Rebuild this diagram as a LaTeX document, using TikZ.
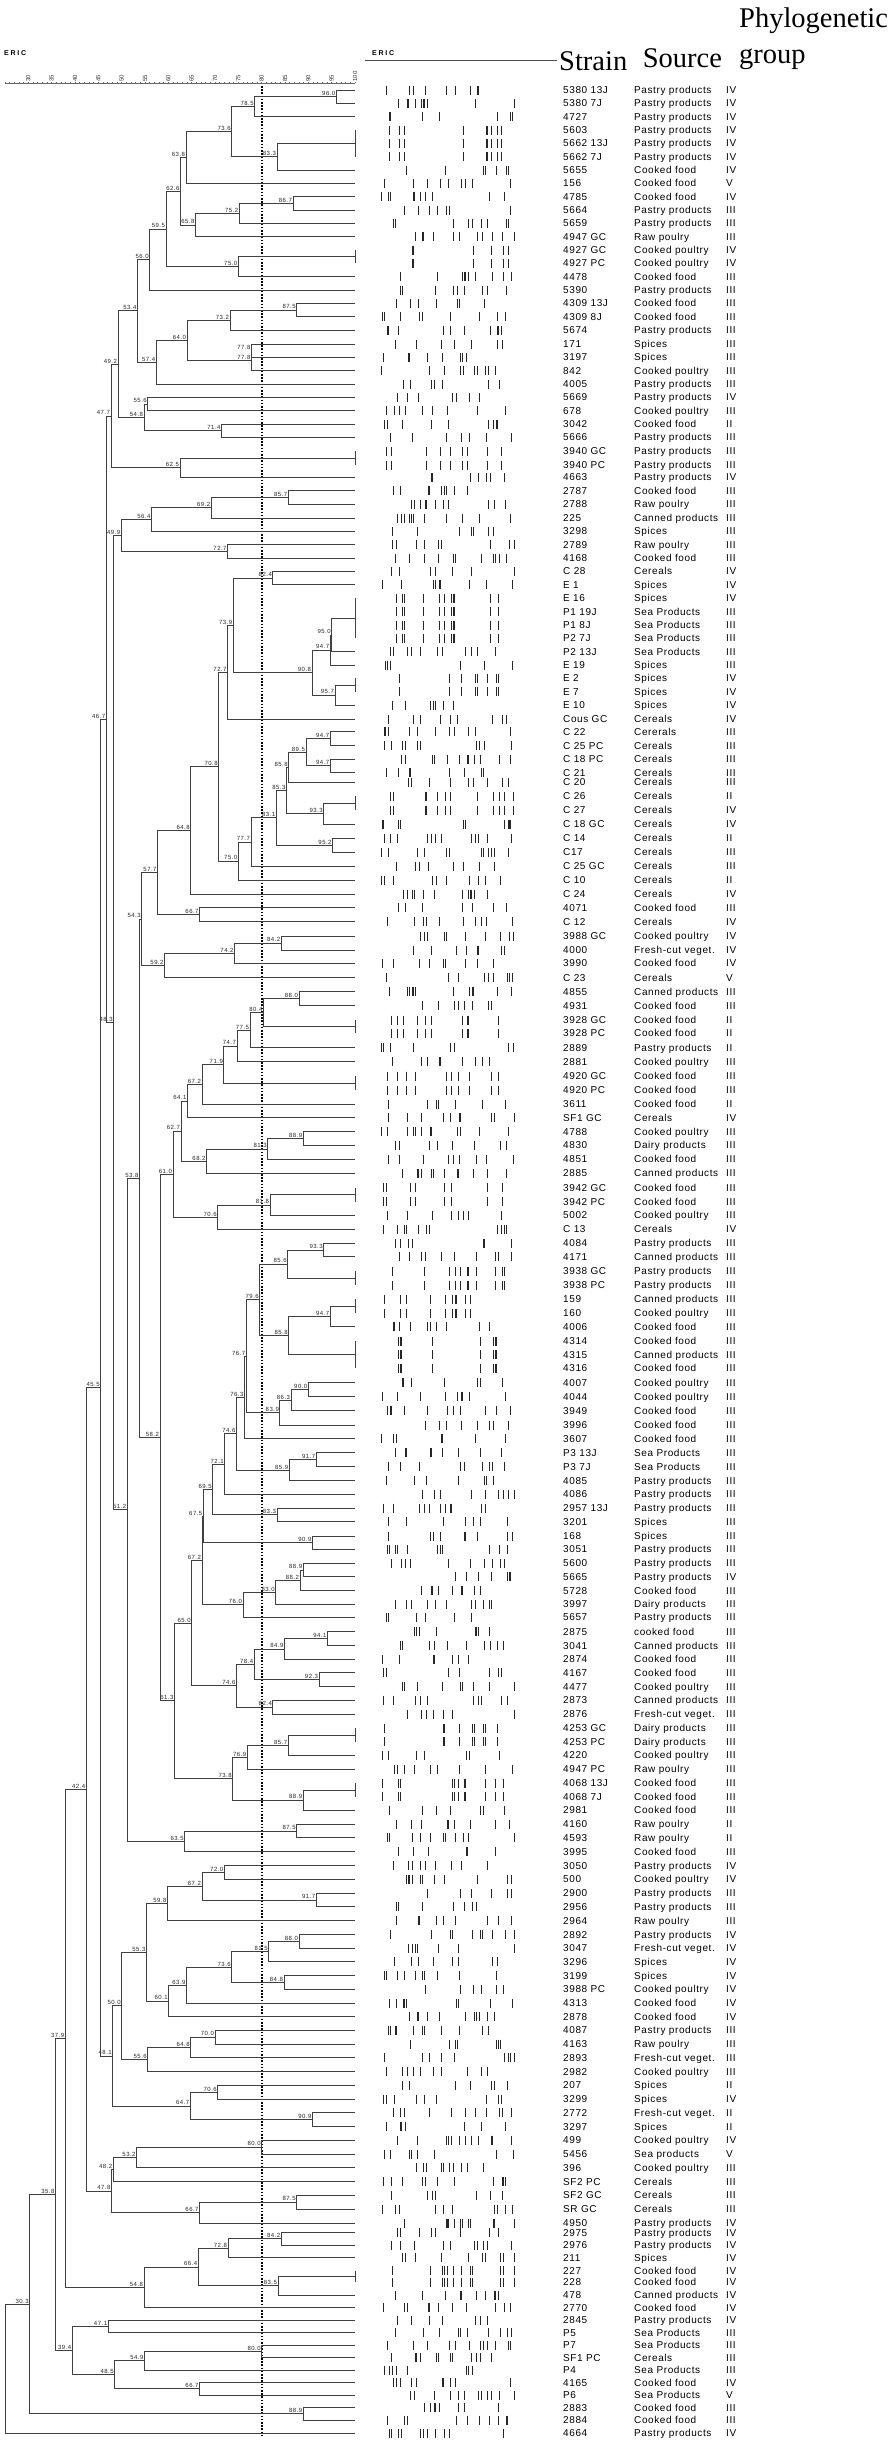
\documentclass[tikz,border=0pt]{standalone}
\usepackage{fontspec}
\setmainfont{Liberation Sans}
\newfontfamily\tabfont[LetterSpace=6]{Liberation Sans}
\newfontfamily\valfont[LetterSpace=8]{Liberation Sans}
\newfontfamily\ericfont[LetterSpace=25]{Liberation Sans}
\newfontfamily\headfont{Liberation Serif}
\usetikzlibrary{calc}

% band pattern of one row: y, seed
\newcommand{\gel}[2]{%
  \pgfmathtruncatemacro{\gelseed}{#2*89+7}%
  \pgfmathsetseed{\gelseed}%
  \pgfmathparse{rnd}%
  \pgfmathtruncatemacro{\gelnb}{7+6*rnd}%
  \foreach \k in {1,...,\gelnb}{%
    \pgfmathsetmacro{\gelx}{381+134*rnd}%
    \draw[band] (\gelx,#1-4.5) -- (\gelx,#1+4.5);}}

% one row: index, y, seed, strain, source, group
\newcommand{\strain}[6]{%
  \coordinate (l#1) at (355,#2);
  \node[tab] (s#1) at (563,#2) {#4};
  \node[tab] (c#1) at (634,#2) {#5};
  \node[tab] (g#1) at (726,#2) {#6};
  \gel{#2}{#3}}

% identical strains: name, first, last
\newcommand{\same}[3]{%
  \path let \p1=(#2), \p2=(#3) in coordinate (#1) at (\x1,{(\y1+\y2)/2});
  \draw[branch] (#2) -- (#3);}

% cluster: name, similarity, upper, lower
\newcommand{\clu}[4]{%
  \path let \p1=(#3), \p2=(#4) in coordinate (#1) at ({(28.3+(#2-30)*4.667)*1pt},{(\y1+\y2)/2});
  \draw[branch] (#3) -- (#3 -| #1) -- (#4 -| #1) -- (#4);
  \node[val] at (#1) {#2};}

\begin{document}
\begin{tikzpicture}[x=1pt, y=-1pt,
  branch/.style={draw=black!75, line width=0.8pt},
  band/.style={draw=black!85, line width=0.9pt},
  val/.style={anchor=south east, inner sep=0.8pt, text=black!85, font=\valfont\fontsize{6}{7}\selectfont},
  tab/.style={anchor=west, inner sep=0pt, text height=7pt, text depth=0pt, font=\tabfont\fontsize{10}{12}\selectfont},
  head/.style={anchor=base west, inner sep=0pt, font=\headfont\fontsize{28.5}{30}\selectfont},
  eric/.style={anchor=west, inner sep=0pt, font=\ericfont\bfseries\fontsize{7}{8}\selectfont},
  scalenum/.style={rotate=90, anchor=west, inner sep=0pt, text=black!80, font=\fontsize{6}{6}\selectfont},
  ruler/.style={draw=black!60, line width=0.5pt},
  cut/.style={draw=black, line width=1.6pt, dash pattern=on 1.6pt off 1.6pt}]

\useasboundingbox (0,0) rectangle (894,2445);

%Header
\node[eric] (eric1) at (4,52.7) {ERIC};
\node[eric] (eric2) at (372,53.4) {ERIC};
\draw[ruler, draw=black!70, line width=0.8pt] (365,60.5) -- (557,60.5);
\node[head] (hstrain) at (559,70) {Strain};
\node[head] (hsource) at (642.6,67) {Source};
\node[head] (hphylo) at (739,27) {Phylogenetic};
\node[head] (hgroup) at (739,63) {group};

%Scale
\draw[ruler] (5,83.3) -- (355,83.3);
\foreach \s in {25,...,100}
  \draw[ruler] ({28.3+(\s-30)*4.667},83.3) -- ++(0,-1.6);
\foreach \s in {30,35,...,100}
  \node[scalenum] at ({28.3+(\s-30)*4.667},81.8) {\s};
\draw[cut] (261.7,86) -- (261.7,2437);

%Strains
\strain{1}{90.0}{1}{5380 13J}{Pastry products}{IV}
\strain{2}{103.3}{2}{5380 7J}{Pastry products}{IV}
\strain{3}{116.7}{3}{4727}{Pastry products}{IV}
\strain{4}{130.0}{4}{5603}{Pastry products}{IV}
\strain{5}{143.3}{4}{5662 13J}{Pastry products}{IV}
\strain{6}{156.7}{4}{5662 7J}{Pastry products}{IV}
\strain{7}{170.0}{7}{5655}{Cooked food}{IV}
\strain{8}{183.3}{8}{156}{Cooked food}{V}
\strain{9}{196.7}{9}{4785}{Cooked food}{IV}
\strain{10}{210.0}{10}{5664}{Pastry products}{III}
\strain{11}{223.3}{11}{5659}{Pastry products}{III}
\strain{12}{236.7}{12}{4947 GC}{Raw poulry}{III}
\strain{13}{250.0}{13}{4927 GC}{Cooked poultry}{IV}
\strain{14}{263.3}{13}{4927 PC}{Cooked poultry}{IV}
\strain{15}{276.7}{15}{4478}{Cooked food}{III}
\strain{16}{290.0}{16}{5390}{Pastry products}{III}
\strain{17}{303.3}{17}{4309 13J}{Cooked food}{III}
\strain{18}{316.7}{18}{4309 8J}{Cooked food}{III}
\strain{19}{330.3}{19}{5674}{Pastry products}{III}
\strain{20}{344.0}{20}{171}{Spices}{III}
\strain{21}{357.3}{21}{3197}{Spices}{III}
\strain{22}{370.7}{22}{842}{Cooked poultry}{III}
\strain{23}{384.0}{23}{4005}{Pastry products}{III}
\strain{24}{397.3}{24}{5669}{Pastry products}{IV}
\strain{25}{410.7}{25}{678}{Cooked poultry}{III}
\strain{26}{424.0}{26}{3042}{Cooked food}{II}
\strain{27}{437.3}{27}{5666}{Pastry products}{III}
\strain{28}{451.3}{28}{3940 GC}{Pastry products}{III}
\strain{29}{465.0}{28}{3940 PC}{Pastry products}{III}
\strain{30}{477.3}{30}{4663}{Pastry products}{IV}
\strain{31}{490.7}{31}{2787}{Cooked food}{III}
\strain{32}{504.0}{32}{2788}{Raw poulry}{III}
\strain{33}{518.0}{33}{225}{Canned products}{III}
\strain{34}{531.3}{34}{3298}{Spices}{III}
\strain{35}{544.7}{35}{2789}{Raw poulry}{III}
\strain{36}{558.0}{36}{4168}{Cooked food}{III}
\strain{37}{571.3}{37}{C 28}{Cereals}{IV}
\strain{38}{584.7}{38}{E 1}{Spices}{IV}
\strain{39}{598.3}{39}{E 16}{Spices}{IV}
\strain{40}{611.7}{39}{P1 19J}{Sea Products}{III}
\strain{41}{625.0}{39}{P1 8J}{Sea Products}{III}
\strain{42}{638.3}{39}{P2 7J}{Sea Products}{III}
\strain{43}{651.7}{43}{P2 13J}{Sea Products}{III}
\strain{44}{665.0}{44}{E 19}{Spices}{III}
\strain{45}{678.3}{45}{E 2}{Spices}{IV}
\strain{46}{691.7}{45}{E 7}{Spices}{IV}
\strain{47}{705.0}{47}{E 10}{Spices}{IV}
\strain{48}{719.0}{48}{Cous GC}{Cereals}{IV}
\strain{49}{731.7}{49}{C 22}{Cererals}{III}
\strain{50}{745.7}{50}{C 25 PC}{Cereals}{III}
\strain{51}{759.0}{51}{C 18 PC}{Cereals}{III}
\strain{52}{772.7}{52}{C 21}{Cereals}{III}
\strain{53}{782.3}{53}{C 20}{Cereals}{III}
\strain{54}{796.0}{54}{C 26}{Cereals}{II}
\strain{55}{810.0}{54}{C 27}{Cereals}{IV}
\strain{56}{824.3}{56}{C 18 GC}{Cereals}{IV}
\strain{57}{838.3}{57}{C 14}{Cereals}{II}
\strain{58}{852.3}{58}{C17}{Cereals}{III}
\strain{59}{866.0}{59}{C 25 GC}{Cereals}{III}
\strain{60}{880.0}{60}{C 10}{Cereals}{II}
\strain{61}{894.0}{61}{C 24}{Cereals}{IV}
\strain{62}{907.7}{62}{4071}{Cooked food}{III}
\strain{63}{921.7}{63}{C 12}{Cereals}{IV}
\strain{64}{936.0}{64}{3988 GC}{Cooked poultry}{IV}
\strain{65}{950.0}{65}{4000}{Fresh-cut veget.}{IV}
\strain{66}{963.3}{66}{3990}{Cooked food}{IV}
\strain{67}{977.7}{67}{C 23}{Cereals}{V}
\strain{68}{991.7}{68}{4855}{Canned products}{III}
\strain{69}{1005.7}{69}{4931}{Cooked food}{III}
\strain{70}{1020.0}{70}{3928 GC}{Cooked food}{II}
\strain{71}{1033.3}{70}{3928 PC}{Cooked food}{II}
\strain{72}{1047.7}{72}{2889}{Pastry products}{II}
\strain{73}{1061.7}{73}{2881}{Cooked poultry}{III}
\strain{74}{1076.0}{74}{4920 GC}{Cooked food}{III}
\strain{75}{1090.0}{74}{4920 PC}{Cooked food}{III}
\strain{76}{1104.0}{76}{3611}{Cooked food}{II}
\strain{77}{1117.7}{77}{SF1 GC}{Cereals}{IV}
\strain{78}{1131.7}{78}{4788}{Cooked poultry}{III}
\strain{79}{1145.3}{79}{4830}{Dairy products}{III}
\strain{80}{1159.3}{80}{4851}{Cooked food}{III}
\strain{81}{1173.3}{81}{2885}{Canned products}{III}
\strain{82}{1187.7}{82}{3942 GC}{Cooked food}{III}
\strain{83}{1201.7}{82}{3942 PC}{Cooked food}{III}
\strain{84}{1215.3}{84}{5002}{Cooked poultry}{III}
\strain{85}{1229.3}{85}{C 13}{Cereals}{IV}
\strain{86}{1243.3}{86}{4084}{Pastry products}{III}
\strain{87}{1256.7}{87}{4171}{Canned products}{III}
\strain{88}{1271.0}{88}{3938 GC}{Pastry products}{III}
\strain{89}{1285.0}{88}{3938 PC}{Pastry products}{III}
\strain{90}{1299.3}{90}{159}{Canned products}{III}
\strain{91}{1313.3}{90}{160}{Cooked poultry}{III}
\strain{92}{1326.7}{92}{4006}{Cooked food}{III}
\strain{93}{1341.0}{93}{4314}{Cooked food}{III}
\strain{94}{1354.7}{93}{4315}{Canned products}{III}
\strain{95}{1368.3}{93}{4316}{Cooked food}{III}
\strain{96}{1382.7}{96}{4007}{Cooked poultry}{III}
\strain{97}{1396.7}{97}{4044}{Cooked poultry}{III}
\strain{98}{1410.7}{98}{3949}{Cooked food}{III}
\strain{99}{1425.0}{99}{3996}{Cooked food}{III}
\strain{100}{1438.7}{100}{3607}{Cooked food}{III}
\strain{101}{1452.7}{101}{P3 13J}{Sea Products}{III}
\strain{102}{1466.7}{102}{P3 7J}{Sea Products}{III}
\strain{103}{1480.7}{103}{4085}{Pastry products}{III}
\strain{104}{1494.3}{104}{4086}{Pastry products}{III}
\strain{105}{1508.0}{105}{2957 13J}{Pastry products}{III}
\strain{106}{1521.7}{106}{3201}{Spices}{III}
\strain{107}{1536.0}{107}{168}{Spices}{III}
\strain{108}{1549.3}{108}{3051}{Pastry products}{III}
\strain{109}{1563.3}{109}{5600}{Pastry products}{III}
\strain{110}{1576.7}{110}{5665}{Pastry products}{IV}
\strain{111}{1590.7}{111}{5728}{Cooked food}{III}
\strain{112}{1604.3}{112}{3997}{Dairy products}{III}
\strain{113}{1617.3}{113}{5657}{Pastry products}{III}
\strain{114}{1631.7}{114}{2875}{cooked food}{III}
\strain{115}{1645.7}{115}{3041}{Canned products}{III}
\strain{116}{1659.3}{116}{2874}{Cooked food}{III}
\strain{117}{1672.7}{117}{4167}{Cooked food}{III}
\strain{118}{1686.7}{118}{4477}{Cooked poultry}{III}
\strain{119}{1700.0}{119}{2873}{Canned products}{III}
\strain{120}{1714.0}{120}{2876}{Fresh-cut veget.}{III}
\strain{121}{1728.3}{121}{4253 GC}{Dairy products}{III}
\strain{122}{1741.7}{121}{4253 PC}{Dairy products}{III}
\strain{123}{1755.3}{123}{4220}{Cooked poultry}{III}
\strain{124}{1769.3}{124}{4947 PC}{Raw poulry}{III}
\strain{125}{1783.3}{125}{4068 13J}{Cooked food}{III}
\strain{126}{1796.7}{125}{4068 7J}{Cooked food}{III}
\strain{127}{1810.0}{127}{2981}{Cooked food}{III}
\strain{128}{1824.3}{128}{4160}{Raw poulry}{II}
\strain{129}{1837.7}{129}{4593}{Raw poulry}{II}
\strain{130}{1851.7}{130}{3995}{Cooked food}{III}
\strain{131}{1865.7}{131}{3050}{Pastry products}{IV}
\strain{132}{1879.0}{132}{500}{Cooked poultry}{IV}
\strain{133}{1893.3}{133}{2900}{Pastry products}{III}
\strain{134}{1906.7}{134}{2956}{Pastry products}{III}
\strain{135}{1920.7}{135}{2964}{Raw poulry}{III}
\strain{136}{1934.7}{136}{2892}{Pastry products}{IV}
\strain{137}{1948.3}{137}{3047}{Fresh-cut veget.}{IV}
\strain{138}{1961.7}{138}{3296}{Spices}{IV}
\strain{139}{1975.7}{139}{3199}{Spices}{IV}
\strain{140}{1989.3}{140}{3988 PC}{Cooked poultry}{IV}
\strain{141}{2003.3}{141}{4313}{Cooked food}{IV}
\strain{142}{2016.7}{142}{2878}{Cooked food}{IV}
\strain{143}{2030.0}{143}{4087}{Pastry products}{III}
\strain{144}{2044.0}{144}{4163}{Raw poulry}{III}
\strain{145}{2057.7}{145}{2893}{Fresh-cut veget.}{III}
\strain{146}{2071.7}{146}{2982}{Cooked poultry}{III}
\strain{147}{2085.3}{147}{207}{Spices}{II}
\strain{148}{2099.0}{148}{3299}{Spices}{IV}
\strain{149}{2112.7}{149}{2772}{Fresh-cut veget.}{II}
\strain{150}{2126.7}{150}{3297}{Spices}{II}
\strain{151}{2140.0}{151}{499}{Cooked poultry}{IV}
\strain{152}{2154.0}{152}{5456}{Sea products}{V}
\strain{153}{2167.7}{153}{396}{Cooked poultry}{III}
\strain{154}{2181.7}{154}{SF2 PC}{Cereals}{III}
\strain{155}{2195.0}{155}{SF2 GC}{Cereals}{III}
\strain{156}{2209.0}{156}{SR GC}{Cereals}{III}
\strain{157}{2223.0}{157}{4950}{Pastry products}{IV}
\strain{158}{2232.7}{158}{2975}{Pastry products}{IV}
\strain{159}{2245.0}{159}{2976}{Pastry products}{IV}
\strain{160}{2257.7}{160}{211}{Spices}{IV}
\strain{161}{2270.7}{161}{227}{Cooked food}{IV}
\strain{162}{2282.0}{161}{228}{Cooked food}{IV}
\strain{163}{2295.0}{163}{478}{Canned products}{IV}
\strain{164}{2307.7}{164}{2770}{Cooked food}{IV}
\strain{165}{2320.0}{165}{2845}{Pastry products}{IV}
\strain{166}{2332.7}{166}{P5}{Sea Products}{III}
\strain{167}{2345.0}{167}{P7}{Sea Products}{III}
\strain{168}{2357.7}{168}{SF1 PC}{Cereals}{III}
\strain{169}{2370.0}{169}{P4}{Sea Products}{III}
\strain{170}{2382.7}{170}{4165}{Cooked food}{IV}
\strain{171}{2395.0}{171}{P6}{Sea Products}{V}
\strain{172}{2407.7}{172}{2883}{Cooked food}{III}
\strain{173}{2420.0}{173}{2884}{Cooked food}{III}
\strain{174}{2433.3}{174}{4664}{Pastry products}{IV}

%Identical strains
\same{kA}{l4}{l6}
\same{kB}{l13}{l14}
\same{kC}{l28}{l29}
\same{kD}{l39}{l42}
\same{kE}{l45}{l46}
\same{kF}{l54}{l55}
\same{kG}{l70}{l71}
\same{kH}{l74}{l75}
\same{kI}{l82}{l83}
\same{kJ}{l88}{l89}
\same{kK}{l90}{l91}
\same{kL}{l93}{l95}
\same{kM}{l121}{l122}
\same{kN}{l125}{l126}
\same{kO}{l161}{l162}

%Tree
\clu{t1}{96.0}{l1}{l2}
\clu{t2}{78.5}{t1}{l3}
\clu{t3}{83.3}{kA}{l7}
\clu{t4}{73.6}{t2}{t3}
\clu{t5}{63.8}{t4}{l8}
\clu{t6}{86.7}{l9}{l10}
\clu{t7}{75.2}{t6}{l11}
\clu{t8}{65.8}{t7}{l12}
\clu{t9}{62.6}{t5}{t8}
\clu{t10}{75.0}{kB}{l15}
\clu{t11}{59.5}{t9}{t10}
\clu{t12}{56.0}{t11}{l16}
\clu{t13}{87.5}{l17}{l18}
\clu{t14}{73.2}{t13}{l19}
\clu{t15}{77.8}{l20}{l21}
\clu{t16}{77.8}{t15}{l22}
\clu{t17}{64.0}{t14}{t16}
\clu{t18}{57.4}{t17}{l23}
\clu{t19}{53.4}{t12}{t18}
\clu{t20}{55.6}{l24}{l25}
\clu{t21}{71.4}{l26}{l27}
\clu{t22}{54.8}{t20}{t21}
\clu{t23}{49.2}{t19}{t22}
\clu{t24}{62.5}{kC}{l30}
\clu{t25}{47.7}{t23}{t24}
\clu{t26}{85.7}{l31}{l32}
\clu{t27}{69.2}{t26}{l33}
\clu{t28}{56.4}{t27}{l34}
\clu{t29}{72.7}{l35}{l36}
\clu{t30}{49.9}{t28}{t29}
\clu{t31}{82.4}{l37}{l38}
\clu{t32}{95.0}{kD}{l43}
\clu{t33}{94.7}{t32}{l44}
\clu{t34}{95.7}{kE}{l47}
\clu{t35}{90.8}{t33}{t34}
\clu{t36}{73.9}{t31}{t35}
\clu{t37}{72.7}{t36}{l48}
\clu{t38}{94.7}{l49}{l50}
\clu{t39}{94.7}{l51}{l52}
\clu{t40}{89.5}{t38}{t39}
\clu{t41}{85.8}{t40}{l53}
\clu{t42}{93.3}{kF}{l56}
\clu{t43}{85.3}{t41}{t42}
\clu{t44}{95.2}{l57}{l58}
\clu{t45}{83.1}{t43}{t44}
\clu{t46}{77.7}{t45}{l59}
\clu{t47}{75.0}{t46}{l60}
\clu{t48}{70.8}{t37}{t47}
\clu{t49}{64.8}{t48}{l61}
\clu{t50}{66.7}{l62}{l63}
\clu{t51}{57.7}{t49}{t50}
\clu{t52}{84.2}{l64}{l65}
\clu{t53}{74.2}{t52}{l66}
\clu{t54}{59.2}{t53}{l67}
\clu{t55}{54.3}{t51}{t54}
\clu{t56}{88.0}{l68}{l69}
\clu{t57}{80.4}{t56}{kG}
\clu{t58}{77.5}{t57}{l72}
\clu{t59}{74.7}{t58}{l73}
\clu{t60}{71.9}{t59}{kH}
\clu{t61}{67.2}{t60}{l76}
\clu{t62}{64.1}{t61}{l77}
\clu{t63}{88.9}{l78}{l79}
\clu{t64}{81.3}{t63}{l80}
\clu{t65}{68.2}{t64}{l81}
\clu{t66}{62.7}{t62}{t65}
\clu{t67}{81.8}{kI}{l84}
\clu{t68}{70.6}{t67}{l85}
\clu{t69}{61.0}{t66}{t68}
\clu{t70}{93.3}{l86}{l87}
\clu{t71}{85.6}{t70}{kJ}
\clu{t72}{94.7}{kK}{l92}
\clu{t73}{85.8}{t72}{kL}
\clu{t74}{79.6}{t71}{t73}
\clu{t75}{90.0}{l96}{l97}
\clu{t76}{86.3}{t75}{l98}
\clu{t77}{83.9}{t76}{l99}
\clu{t78}{76.7}{t74}{t77}
\clu{t79}{76.3}{t78}{l100}
\clu{t80}{91.7}{l101}{l102}
\clu{t81}{85.9}{t80}{l103}
\clu{t82}{74.6}{t79}{t81}
\clu{t83}{72.1}{t82}{l104}
\clu{t84}{83.3}{l105}{l106}
\clu{t85}{69.5}{t83}{t84}
\clu{t86}{90.9}{l107}{l108}
\clu{t87}{67.5}{t85}{t86}
\clu{t88}{88.9}{l109}{l110}
\clu{t89}{88.2}{t88}{l111}
\clu{t90}{83.0}{t89}{l112}
\clu{t91}{76.0}{t90}{l113}
\clu{t92}{67.2}{t87}{t91}
\clu{t93}{94.1}{l114}{l115}
\clu{t94}{84.9}{t93}{l116}
\clu{t95}{92.3}{l117}{l118}
\clu{t96}{78.4}{t94}{t95}
\clu{t97}{82.4}{l119}{l120}
\clu{t98}{74.6}{t96}{t97}
\clu{t99}{65.0}{t92}{t98}
\clu{t100}{85.7}{kM}{l123}
\clu{t101}{76.9}{t100}{l124}
\clu{t102}{88.9}{kN}{l127}
\clu{t103}{73.8}{t101}{t102}
\clu{t104}{61.3}{t99}{t103}
\clu{t105}{58.2}{t69}{t104}
\clu{t106}{53.8}{t55}{t105}
\clu{t107}{87.5}{l128}{l129}
\clu{t108}{63.5}{t107}{l130}
\clu{t109}{51.2}{t106}{t108}
\clu{t110}{48.3}{t30}{t109}
\clu{t111}{46.7}{t25}{t110}
\clu{t112}{72.0}{l131}{l132}
\clu{t113}{91.7}{l133}{l134}
\clu{t114}{67.2}{t112}{t113}
\clu{t115}{59.8}{t114}{l135}
\clu{t116}{88.0}{l136}{l137}
\clu{t117}{81.5}{t116}{l138}
\clu{t118}{84.8}{l139}{l140}
\clu{t119}{73.6}{t117}{t118}
\clu{t120}{63.9}{t119}{l141}
\clu{t121}{60.1}{t120}{l142}
\clu{t122}{55.3}{t115}{t121}
\clu{t123}{70.0}{l143}{l144}
\clu{t124}{64.8}{t123}{l145}
\clu{t125}{55.6}{t124}{l146}
\clu{t126}{50.0}{t122}{t125}
\clu{t127}{70.6}{l147}{l148}
\clu{t128}{90.9}{l149}{l150}
\clu{t129}{64.7}{t127}{t128}
\clu{t130}{48.1}{t126}{t129}
\clu{t131}{45.5}{t111}{t130}
\clu{t132}{80.0}{l151}{l152}
\clu{t133}{53.2}{t132}{l153}
\clu{t134}{48.2}{t133}{l154}
\clu{t135}{87.5}{l155}{l156}
\clu{t136}{66.7}{t135}{l157}
\clu{t137}{47.8}{t134}{t136}
\clu{t138}{42.4}{t131}{t137}
\clu{t139}{84.2}{l158}{l159}
\clu{t140}{72.8}{t139}{l160}
\clu{t141}{83.5}{kO}{l163}
\clu{t142}{66.4}{t140}{t141}
\clu{t143}{54.8}{t142}{l164}
\clu{t144}{37.9}{t138}{t143}
\clu{t145}{47.1}{l165}{l166}
\clu{t146}{80.0}{l167}{l168}
\clu{t147}{54.9}{t146}{l169}
\clu{t148}{66.7}{l170}{l171}
\clu{t149}{48.5}{t147}{t148}
\clu{t150}{39.4}{t145}{t149}
\clu{t151}{35.8}{t144}{t150}
\clu{t152}{88.9}{l172}{l173}
\clu{t153}{30.3}{t151}{t152}
\path let \p1=(t153), \p2=(l174) in coordinate (t154) at ({(28.3+(25.2-30)*4.667)*1pt},{(\y1+\y2)/2});
\draw[branch] (t153) -- (t153 -| t154) -- (l174 -| t154) -- (l174);

\end{tikzpicture}
\end{document}
